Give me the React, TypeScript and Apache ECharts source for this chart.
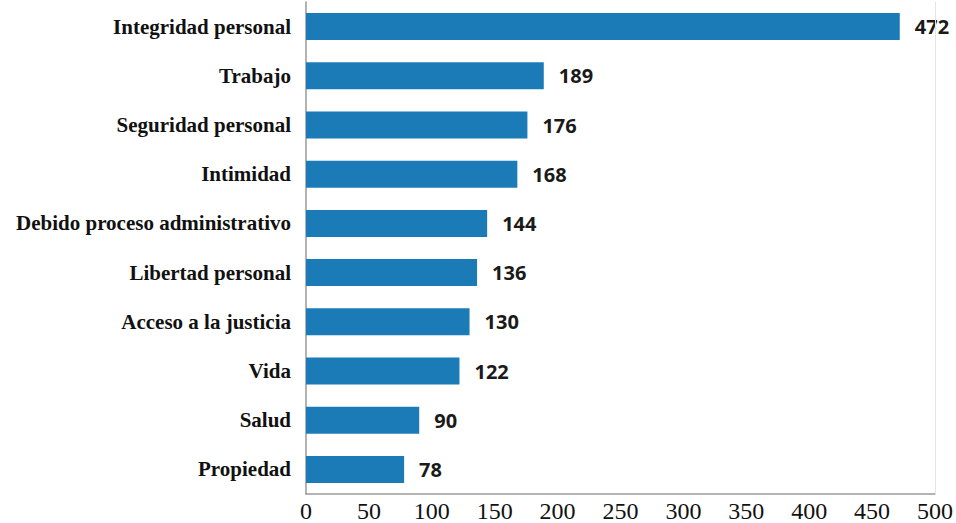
import React, { useEffect, useRef } from "react";
import * as echarts from "echarts";

const categories = [
  "Integridad personal",
  "Trabajo",
  "Seguridad personal",
  "Intimidad",
  "Debido proceso administrativo",
  "Libertad personal",
  "Acceso a la justicia",
  "Vida",
  "Salud",
  "Propiedad",
];
const values = [472, 189, 176, 168, 144, 136, 130, 122, 90, 78];
const axisMax = 500;
const axisStep = 50;

export default function App() {
  const ref = useRef<HTMLDivElement>(null);
  useEffect(() => {
    document.body.style.margin = "0";
    if (!ref.current) return;
    const chart = echarts.init(ref.current, null, { renderer: "svg" });
    chart.setOption({
      animation: false,
      grid: { left: 306, right: 19, top: 2, bottom: 29, containLabel: false },
      xAxis: {
        type: "value",
        min: 0,
        max: axisMax,
        interval: axisStep,
        axisLine: { show: true, lineStyle: { color: "#9a9a9a", width: 1.5 } },
        axisTick: { show: false },
        splitLine: { show: false },
        axisLabel: {
          color: "#111",
          fontFamily: "Liberation Serif",
          fontSize: 24,
          margin: 5,
        },
      },
      yAxis: {
        type: "category",
        data: categories,
        inverse: true,
        axisLine: { show: true, lineStyle: { color: "#9a9a9a", width: 1.5 } },
        axisTick: { show: false },
        axisLabel: {
          color: "#111",
          fontFamily: "Liberation Serif",
          fontWeight: "bold",
          fontSize: 21,
          margin: 15,
        },
      },
      series: [
        {
          type: "bar",
          data: values,
          barWidth: 27,
          itemStyle: { color: "#1b7bb7" },
          label: {
            show: true,
            position: "right",
            distance: 15,
            color: "#1a1a1a",
            fontFamily: "Open Sans",
            fontWeight: "bold",
            fontSize: 20,
          },
          markLine: {
            silent: true,
            symbol: "none",
            label: { show: false },
            lineStyle: { color: "#e4e4e4", type: "solid", width: 1 },
            data: [{ xAxis: axisMax }],
          },
        },
      ],
    });
    return () => chart.dispose();
  }, []);
  return <div ref={ref} style={{ width: 956, height: 523 }} />;
}
